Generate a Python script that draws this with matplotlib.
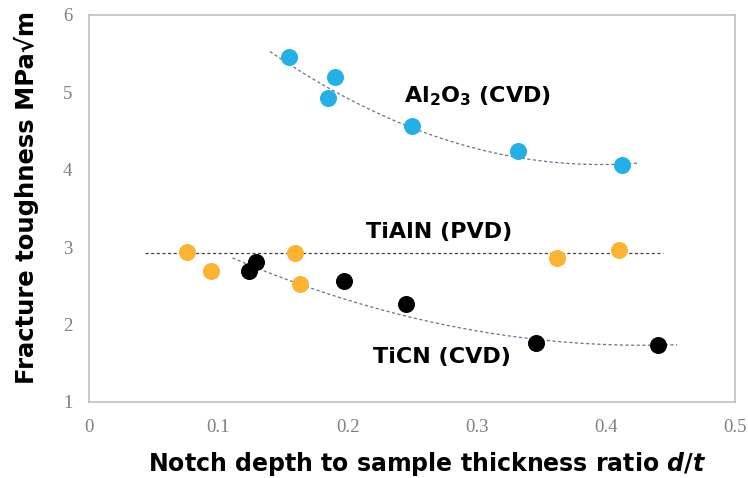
import numpy as np
import matplotlib
matplotlib.use("Agg")
import matplotlib.pyplot as plt

# data
al2o3_x = [0.155, 0.190, 0.185, 0.250, 0.332, 0.4125]
al2o3_y = [5.46, 5.20, 4.93, 4.57, 4.24, 4.06]
tialn_x = [0.076, 0.094, 0.159, 0.163, 0.362, 0.410]
tialn_y = [2.94, 2.69, 2.93, 2.52, 2.86, 2.96]
ticn_x = [0.124, 0.129, 0.197, 0.245, 0.346, 0.440]
ticn_y = [2.69, 2.81, 2.56, 2.27, 1.76, 1.74]

# trend curves
al2o3_trend_x = [0.140, 0.250, 0.332, 0.424]
al2o3_trend_y = [5.535, 4.51, 4.19, 4.075]
ticn_trend_x = [0.111, 0.245, 0.346, 0.455]
ticn_trend_y = [2.86, 2.11, 1.81, 1.74]
tialn_level = 2.93
tialn_span = [0.043, 0.444]

x_ticks = [0, 0.1, 0.2, 0.3, 0.4, 0.5]
y_ticks = [1, 2, 3, 4, 5, 6]

fig = plt.figure(figsize=(7.48, 4.78), dpi=100)
ax = fig.add_axes([0.119, 0.159, 0.864, 0.81])

line_kw = dict(color="#6f6f8f", lw=0.9, ls=(0, (2.5, 2)), zorder=1)
c = np.polyfit(al2o3_trend_x, al2o3_trend_y, 2)
xs = np.linspace(al2o3_trend_x[0], al2o3_trend_x[-1], 100)
ax.plot(xs, np.polyval(c, xs), **line_kw)
c = np.polyfit(ticn_trend_x, ticn_trend_y, 2)
xs = np.linspace(ticn_trend_x[0], ticn_trend_x[-1], 100)
ax.plot(xs, np.polyval(c, xs), **line_kw)
ax.plot(tialn_span, [tialn_level, tialn_level], color="#404040", lw=0.9, ls=(0, (2.5, 2)), zorder=1)

ax.scatter(al2o3_x, al2o3_y, s=150, color="#22b0e6", zorder=3, linewidths=0)
ax.scatter(tialn_x, tialn_y, s=150, color="#fbb431", zorder=3, linewidths=0)
ax.scatter(ticn_x, ticn_y, s=150, color="black", zorder=3, linewidths=0)

ax.text(0.244, 4.95, r"Al$_\mathbf{2}$O$_\mathbf{3}$ (CVD)", fontsize=16, fontweight="bold", ha="left", va="center")
ax.text(0.214, 3.19, "TiAlN (PVD)", fontsize=16, fontweight="bold", ha="left", va="center")
ax.text(0.220, 1.58, "TiCN (CVD)", fontsize=16, fontweight="bold", ha="left", va="center")

ax.set_xlim(0, 0.5)
ax.set_ylim(1, 6)
ax.set_xticks(x_ticks)
ax.set_xticklabels(["0", "0.1", "0.2", "0.3", "0.4", "0.5"])
ax.set_yticks(y_ticks)
ax.tick_params(length=0, labelsize=13.5, labelcolor="#7f7f7f")
ax.tick_params(axis="x", pad=12)
ax.tick_params(axis="y", pad=12)
for lab in ax.get_xticklabels() + ax.get_yticklabels():
    lab.set_fontfamily("Liberation Serif")
for sp in ax.spines.values():
    sp.set_color("#bfbfbf")
    sp.set_linewidth(1.2)

ax.set_xlabel(r"Notch depth to sample thickness ratio $\boldsymbol{d/t}$", fontsize=17, fontweight="bold", va="center")
ax.set_ylabel("Fracture toughness MPa√m", fontsize=17.5, fontweight="bold", va="center")
ax.xaxis.set_label_coords(0.523, -0.16)
ax.yaxis.set_label_coords(-0.096, 0.527)

fig.savefig("out.png", dpi=100)
